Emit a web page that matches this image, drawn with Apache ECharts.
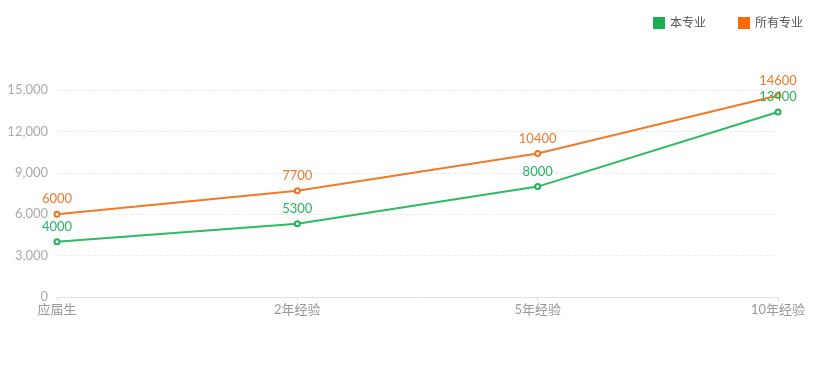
<!DOCTYPE html>
<html><head><meta charset="utf-8">
<script src="https://cdn.jsdelivr.net/npm/echarts@6/dist/echarts.min.js"></script>
<style>html,body{margin:0;padding:0;background:#fff}#c{width:836px;height:381px}</style>
</head><body><div id="c"></div>
<script>
const categories = ['应届生', '2年经验', '5年经验', '10年经验'];
const seriesNames = ['本专业', '所有专业'];
const majorValues = [4000, 5300, 8000, 13400];
const allValues = [6000, 7700, 10400, 14600];
const yTicks = [0, 3000, 6000, 9000, 12000, 15000];

const chart = echarts.init(document.getElementById('c'));
const font = 'Lato,"Noto Sans CJK SC",sans-serif';
chart.setOption({
  animation: false,
  color: ['#1fb35b', '#f07420'],
  legend: {
    right: 28, top: 12, itemWidth: 12, itemHeight: 12, itemGap: 32,
    icon: 'rect',
    textStyle: { color: '#555', fontSize: 12, fontFamily: font },
    data: [
      { name: seriesNames[0], itemStyle: { color: '#1aaf54' } },
      { name: seriesNames[1], itemStyle: { color: '#ff6a00' } }
    ]
  },
  grid: { left: 57, right: 58, top: 90, bottom: 84, containLabel: false },
  xAxis: {
    type: 'category', data: categories, boundaryGap: false,
    axisLine: { lineStyle: { color: '#e3e3e3' } },
    axisTick: { show: true, length: 4, lineStyle: { color: '#e3e3e3' } },
    axisLabel: { color: '#999', fontSize: 13, fontFamily: font, margin: 6 }
  },
  yAxis: {
    type: 'value', min: yTicks[0], max: yTicks[yTicks.length - 1], interval: 3000,
    axisLine: { show: false }, axisTick: { show: false },
    axisLabel: { color: '#aaa', fontSize: 13, fontFamily: font, margin: 9,
      formatter: v => v.toLocaleString('en-US') },
    splitLine: { lineStyle: { color: '#ececec', type: 'dashed' } }
  },
  series: [
    { name: seriesNames[0], type: 'line', data: majorValues, symbol: 'emptyCircle', symbolSize: 5,
      itemStyle: { color: '#1fb35b', borderWidth: 1 },
      lineStyle: { width: 2, color: '#2dbb62' },
      label: { show: true, position: 'top', color: '#25b55e', fontSize: 13, fontFamily: font, distance: 5 } },
    { name: seriesNames[1], type: 'line', data: allValues, symbol: 'emptyCircle', symbolSize: 5,
      itemStyle: { color: '#f07420', borderWidth: 1 },
      lineStyle: { width: 2, color: '#f07a25' },
      label: { show: true, position: 'top', color: '#f2772a', fontSize: 13, fontFamily: font, distance: 5 } }
  ]
});
</script></body></html>
